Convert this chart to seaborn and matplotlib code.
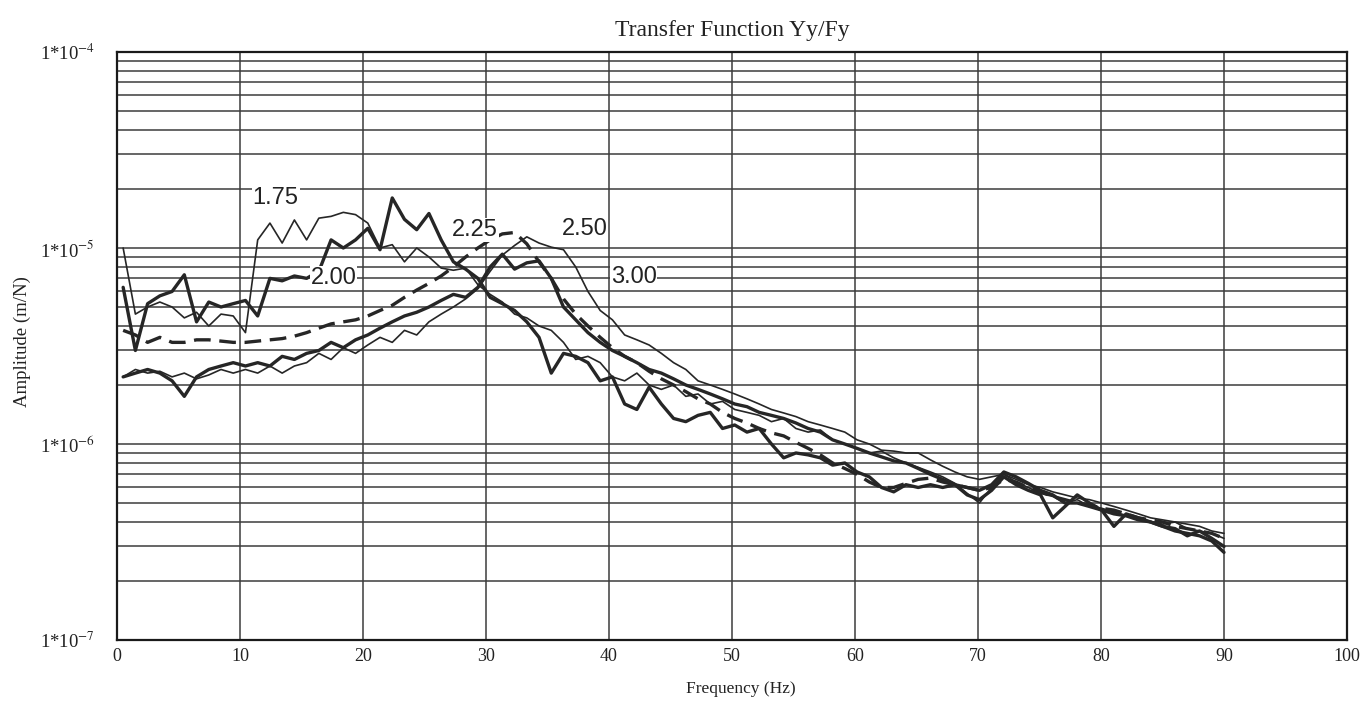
import numpy as np
import pandas as pd
import matplotlib
matplotlib.use("Agg")
import matplotlib.pyplot as plt
import seaborn as sns
from matplotlib.ticker import LogLocator, NullFormatter

# Frequency axis of the measured transfer functions (Hz)
freq_hz = np.linspace(0.5, 90.0, 91)

# Amplitudes in micro-metres per newton (x1e-6 m/N), one list per configuration
amp_175 = [10.0, 4.6, 5.0, 5.3, 5.0, 4.4, 4.7, 4.0, 4.6, 4.5, 3.7,
           11.0, 13.4, 10.6, 13.9, 11.0, 14.2, 14.5, 15.2, 14.8, 13.4,
           10.0, 10.4, 8.5, 10.0, 9.0, 7.9, 7.7, 7.9, 6.5, 5.8,
           5.3, 4.6, 4.4, 4.0, 3.8, 3.3, 2.7, 2.8, 2.6, 2.2,
           2.1, 2.3, 2.0, 1.9, 2.0, 1.75, 1.8, 1.6, 1.65, 1.5,
           1.45, 1.4, 1.3, 1.35, 1.2, 1.15, 1.18, 1.05, 1.0, 0.95,
           0.9, 0.92, 0.85, 0.8, 0.76, 0.72, 0.68, 0.63, 0.56, 0.5,
           0.6, 0.7, 0.64, 0.6, 0.56, 0.54, 0.5, 0.52, 0.48, 0.47,
           0.45, 0.43, 0.42, 0.4, 0.39, 0.4, 0.37, 0.36, 0.35, 0.33]

amp_200 = [6.3, 3.0, 5.2, 5.7, 6.0, 7.3, 4.2, 5.3, 5.0, 5.2, 5.4,
           4.5, 7.0, 6.8, 7.2, 7.0, 7.6, 11.0, 10.0, 11.0, 12.6,
           9.8, 18.0, 14.0, 12.4, 15.0, 11.0, 8.5, 7.8, 7.0, 5.6,
           5.2, 4.8, 4.2, 3.5, 2.3, 2.9, 2.8, 2.6, 2.1, 2.2,
           1.6, 1.5, 1.95, 1.6, 1.35, 1.3, 1.4, 1.45, 1.2, 1.25,
           1.15, 1.2, 1.0, 0.85, 0.9, 0.88, 0.85, 0.78, 0.8, 0.72,
           0.68, 0.6, 0.57, 0.62, 0.6, 0.62, 0.6, 0.62, 0.55, 0.52,
           0.58, 0.68, 0.62, 0.58, 0.55, 0.42, 0.48, 0.55, 0.5, 0.46,
           0.38, 0.44, 0.42, 0.4, 0.38, 0.37, 0.34, 0.36, 0.33, 0.3]

amp_225 = [3.8, 3.6, 3.3, 3.5, 3.3, 3.3, 3.4, 3.4, 3.35, 3.3, 3.3,
           3.35, 3.4, 3.45, 3.55, 3.7, 3.9, 4.1, 4.2, 4.3, 4.5,
           4.8, 5.1, 5.6, 6.1, 6.6, 7.2, 8.0, 9.0, 10.0, 11.0,
           11.8, 12.0, 10.5, 8.5, 7.0, 5.5, 4.6, 4.0, 3.5, 3.1,
           2.8, 2.6, 2.35, 2.15, 2.0, 1.85, 1.7, 1.6, 1.45, 1.35,
           1.28, 1.2, 1.14, 1.1, 1.02, 0.95, 0.88, 0.8, 0.75, 0.7,
           0.64, 0.6, 0.6, 0.63, 0.66, 0.67, 0.64, 0.62, 0.6, 0.58,
           0.6, 0.66, 0.64, 0.6, 0.57, 0.54, 0.52, 0.5, 0.49, 0.47,
           0.46, 0.44, 0.42, 0.41, 0.4, 0.38, 0.37, 0.36, 0.35, 0.33]

amp_250 = [2.2, 2.4, 2.3, 2.35, 2.2, 2.3, 2.15, 2.25, 2.4, 2.3, 2.4,
           2.3, 2.5, 2.3, 2.5, 2.6, 2.9, 2.7, 3.1, 2.9, 3.2,
           3.5, 3.3, 3.8, 3.6, 4.2, 4.6, 5.0, 5.5, 6.2, 7.6,
           9.2, 10.3, 11.4, 10.6, 10.1, 9.8, 8.0, 6.0, 4.8, 4.3,
           3.6, 3.4, 3.2, 2.9, 2.6, 2.4, 2.1, 2.0, 1.9, 1.8,
           1.7, 1.6, 1.5, 1.44, 1.38, 1.3, 1.25, 1.2, 1.15, 1.05,
           1.0, 0.93, 0.92, 0.9, 0.9, 0.83, 0.77, 0.72, 0.68, 0.66,
           0.68, 0.7, 0.66, 0.62, 0.6, 0.57, 0.55, 0.53, 0.52, 0.5,
           0.48, 0.46, 0.44, 0.42, 0.41, 0.4, 0.39, 0.38, 0.36, 0.35]

amp_300 = [2.2, 2.3, 2.4, 2.3, 2.1, 1.75, 2.2, 2.4, 2.5, 2.6, 2.5,
           2.6, 2.5, 2.8, 2.7, 2.9, 3.0, 3.3, 3.1, 3.4, 3.6,
           3.9, 4.2, 4.5, 4.7, 5.0, 5.4, 5.8, 5.6, 6.3, 8.0,
           9.3, 7.8, 8.4, 8.6, 7.0, 5.0, 4.3, 3.7, 3.3, 3.0,
           2.8, 2.6, 2.4, 2.3, 2.15, 2.0, 1.9, 1.8, 1.7, 1.6,
           1.55, 1.45, 1.4, 1.35, 1.28, 1.2, 1.15, 1.05, 1.0, 0.95,
           0.9, 0.86, 0.82, 0.8, 0.75, 0.7, 0.66, 0.62, 0.6, 0.58,
           0.62, 0.72, 0.68, 0.63, 0.58, 0.55, 0.5, 0.5, 0.48, 0.46,
           0.44, 0.43, 0.41, 0.4, 0.38, 0.36, 0.35, 0.34, 0.32, 0.28]

curve_names = ["1.75", "2.00", "2.25", "2.50", "3.00"]
curve_values = [amp_175, amp_200, amp_225, amp_250, amp_300]

# Label anchor points (frequency in Hz, amplitude x1e-6)
label_freq = [12.9, 17.6, 29.1, 38.0, 42.0]
label_amp = [18.0, 7.0, 12.4, 12.5, 7.1]

y_tick_values = [1e-7, 1e-6, 1e-5, 1e-4]
y_tick_labels = [r"1*10$^{-7}$", r"1*10$^{-6}$", r"1*10$^{-5}$", r"1*10$^{-4}$"]
x_tick_values = list(range(0, 101, 10))

frames = []
for name, vals in zip(curve_names, curve_values):
    frames.append(pd.DataFrame({"freq": freq_hz,
                                "amp": np.asarray(vals) * 1e-6,
                                "curve": name}))
df = pd.concat(frames, ignore_index=True)

sns.set_style("white")
plt.rcParams["font.family"] = ["Liberation Serif", "DejaVu Serif"]
plt.rcParams["mathtext.fontset"] = "stix"

ink = "#262626"
grid_ink = "#3c3c3c"

fig = plt.figure(figsize=(13.71, 7.02), dpi=100)
ax = fig.add_axes([117 / 1371, 1 - 640 / 702, 1230 / 1371, 588 / 702])

sns.lineplot(data=df, x="freq", y="amp", hue="curve", style="curve", size="curve",
             palette={n: ink for n in curve_names},
             sizes={"1.75": 1.2, "2.00": 2.4, "2.25": 2.4, "2.50": 1.2, "3.00": 2.4},
             dashes={"1.75": "", "2.00": "", "2.25": (5, 2.6), "2.50": "", "3.00": ""},
             estimator=None, sort=False, legend=False, ax=ax, zorder=3)

ax.set_yscale("log")
ax.set_xlim(0, 100)
ax.set_ylim(1e-7, 1e-4)

ax.set_xticks(x_tick_values)
ax.set_xticklabels([str(v) for v in x_tick_values], fontsize=13)
ax.set_yticks(y_tick_values)
ax.set_yticklabels(y_tick_labels, fontsize=13.5)
ax.yaxis.set_minor_locator(LogLocator(base=10, subs=np.arange(2, 10)))
ax.yaxis.set_minor_formatter(NullFormatter())
ax.tick_params(axis="both", which="both", length=0, colors="#222222")
ax.tick_params(axis="y", pad=16)
ax.tick_params(axis="x", pad=6)

ax.grid(True, axis="y", which="both", color=grid_ink, lw=1.1)
ax.grid(True, axis="x", which="major", color=grid_ink, lw=1.1)
ax.set_axisbelow(True)
for sp in ax.spines.values():
    sp.set_color("#1a1a1a")
    sp.set_linewidth(1.6)

ax.set_xlabel("Frequency (Hz)", fontsize=12.5, color="#222222")
ax.set_ylabel("Amplitude (m/N)", fontsize=13.5, color="#222222")
ax.xaxis.set_label_coords(0.507, -0.07)
ax.yaxis.set_label_coords(-0.07, 0.507)

ax.text(0.5, 1.037, "Transfer Function Yy/Fy", transform=ax.transAxes,
        ha="center", va="center", fontsize=17, color="#222222")

for name, fx, fy in zip(curve_names, label_freq, label_amp):
    ax.text(fx, fy * 1e-6, name, ha="center", va="center", fontsize=17,
            family=["Liberation Sans", "DejaVu Sans"], color="#222222", zorder=5,
            bbox=dict(facecolor="white", edgecolor="none", pad=0.6))

fig.savefig("out.png", dpi=100, facecolor="white")
